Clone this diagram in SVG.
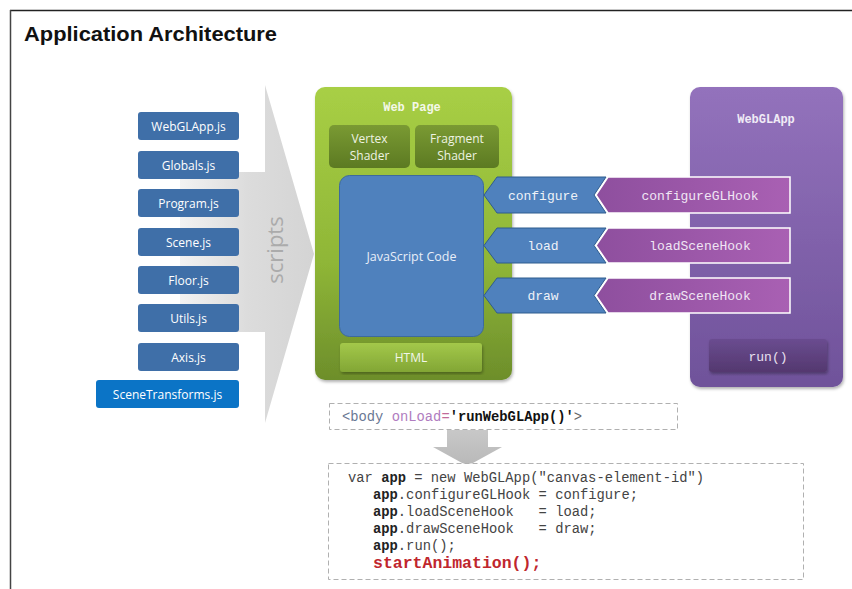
<svg xmlns="http://www.w3.org/2000/svg" width="852" height="589" viewBox="0 0 852 589">
<defs>
<linearGradient id="gGreen" x1="0" y1="0" x2="0" y2="1"><stop offset="0" stop-color="#a8cf45"/><stop offset="0.6" stop-color="#8fb637"/><stop offset="1" stop-color="#6d8e2b"/></linearGradient>
<linearGradient id="gDkGreen" x1="0" y1="0" x2="0" y2="1"><stop offset="0" stop-color="#7a9a33"/><stop offset="1" stop-color="#5c7a22"/></linearGradient>
<linearGradient id="gHtml" x1="0" y1="0" x2="0" y2="1"><stop offset="0" stop-color="#a3c84a"/><stop offset="1" stop-color="#82a635"/></linearGradient>
<linearGradient id="gPurple" x1="0" y1="0" x2="0" y2="1"><stop offset="0" stop-color="#9372bc"/><stop offset="1" stop-color="#6f529a"/></linearGradient>
<linearGradient id="gRun" x1="0" y1="0" x2="0" y2="1"><stop offset="0" stop-color="#6a4c90"/><stop offset="1" stop-color="#54386f"/></linearGradient>
<linearGradient id="gHook" x1="0" y1="0" x2="1" y2="0"><stop offset="0" stop-color="#8e4f9e"/><stop offset="1" stop-color="#a960b3"/></linearGradient>
<linearGradient id="gArrow" x1="0" y1="0" x2="1" y2="0"><stop offset="0" stop-color="#f2f2f2"/><stop offset="0.5" stop-color="#dcdcdc"/><stop offset="1" stop-color="#d4d4d4"/></linearGradient>
<linearGradient id="gDown" x1="0" y1="0" x2="0" y2="1"><stop offset="0" stop-color="#c8c8c8"/><stop offset="1" stop-color="#b8b8b8"/></linearGradient>
<filter id="sh" x="-10%" y="-10%" width="120%" height="120%"><feDropShadow dx="1" dy="2" stdDeviation="1.5" flood-color="#000" flood-opacity="0.3"/></filter>
</defs>
<style>
.file{fill:#3f6fa8;}
.ftxt{font-family:"Open Sans","Liberation Sans",sans-serif;font-size:12px;fill:#ffffff;text-anchor:middle;}
.mono{font-family:"Liberation Mono","Courier New",monospace;}
.lbl{font-family:"Liberation Mono",monospace;font-size:13px;fill:#eef2f8;text-anchor:middle;}
.hlbl{font-family:"Liberation Mono",monospace;font-size:13px;fill:#f0e6f4;text-anchor:middle;}
.sans{font-family:"Open Sans","Liberation Sans",sans-serif;text-anchor:middle;}
.code{font-family:"Liberation Mono",monospace;font-size:13.8px;fill:#444444;white-space:pre;}
.kw{font-weight:bold;fill:#222222;}
.red{font-size:16.5px;font-weight:bold;fill:#c0262d;}
.dash{fill:#ffffff;stroke:#b0b0b0;stroke-width:1;stroke-dasharray:5 3;}
</style>
<rect x="0" y="0" width="852" height="589" fill="#ffffff"/>
<line x1="10" y1="10.5" x2="852" y2="10.5" stroke="#222" stroke-width="1.5"/>
<line x1="10.5" y1="10" x2="10.5" y2="589" stroke="#444" stroke-width="1.5"/>
<text x="24" y="41" font-family="Liberation Sans, Arial, sans-serif" font-weight="bold" font-size="20" fill="#111" textLength="253" lengthAdjust="spacingAndGlyphs">Application Architecture</text>

<g id="scripts-arrow">
<path d="M180,172 L265,172 L265,85 L314,254 L265,423 L265,332 L180,332 Z" fill="url(#gArrow)"/>
<text transform="translate(283,250) rotate(-90)" class="sans" font-size="22" fill="#ababab">scripts</text>
</g>

<g id="files">
<g id="f-webglapp"><rect class="file" x="138" y="112" width="101" height="28" rx="3"/><text class="ftxt" x="188.5" y="130.5">WebGLApp.js</text></g>
<g id="f-globals"><rect class="file" x="138" y="151" width="101" height="28" rx="3"/><text class="ftxt" x="188.5" y="169.5">Globals.js</text></g>
<g id="f-program"><rect class="file" x="138" y="189" width="101" height="28" rx="3"/><text class="ftxt" x="188.5" y="207.5">Program.js</text></g>
<g id="f-scene"><rect class="file" x="138" y="228" width="101" height="28" rx="3"/><text class="ftxt" x="188.5" y="246.5">Scene.js</text></g>
<g id="f-floor"><rect class="file" x="138" y="266" width="101" height="28" rx="3"/><text class="ftxt" x="188.5" y="284.5">Floor.js</text></g>
<g id="f-utils"><rect class="file" x="138" y="304" width="101" height="28" rx="3"/><text class="ftxt" x="188.5" y="322.5">Utils.js</text></g>
<g id="f-axis"><rect class="file" x="138" y="343" width="101" height="28" rx="3"/><text class="ftxt" x="188.5" y="361.5">Axis.js</text></g>
<g id="f-scenetransforms"><rect x="96" y="380" width="143" height="28" rx="3" fill="#0b74c6"/><text class="ftxt" x="167.5" y="398.5">SceneTransforms.js</text></g>
</g>

<g id="webpage">
<rect x="315" y="87" width="197" height="293" rx="10" fill="url(#gGreen)" filter="url(#sh)"/>
<text x="412" y="111" class="mono" font-size="12" font-weight="bold" fill="#f4f8e8" text-anchor="middle">Web Page</text>
</g>
<g id="vertex-shader">
<rect x="329" y="125" width="81" height="43" rx="5" fill="url(#gDkGreen)"/>
<text class="sans" x="369.5" y="143" font-size="12" fill="#eef3e2">Vertex</text>
<text class="sans" x="369.5" y="160" font-size="12" fill="#eef3e2">Shader</text>
</g>
<g id="fragment-shader">
<rect x="415" y="125" width="84" height="43" rx="5" fill="url(#gDkGreen)"/>
<text class="sans" x="457" y="143" font-size="12" fill="#eef3e2">Fragment</text>
<text class="sans" x="457" y="160" font-size="12" fill="#eef3e2">Shader</text>
</g>
<g id="javascript-code">
<rect x="339.5" y="175.5" width="144" height="161" rx="10" fill="#4f81bd" stroke="#3d6a9c" stroke-width="1"/>
<text class="sans" x="411.5" y="261" font-size="12.5" fill="#e8eef8">JavaScript Code</text>
</g>
<g id="html">
<rect x="340" y="343" width="142" height="29" rx="3" fill="url(#gHtml)" filter="url(#sh)"/>
<text class="sans" x="411" y="362" font-size="12" fill="#f2f6ea">HTML</text>
</g>

<g id="webglapp">
<rect x="690" y="87" width="153" height="300" rx="10" fill="url(#gPurple)" filter="url(#sh)"/>
<text x="766" y="123" class="mono" font-size="12" font-weight="bold" fill="#f0ebf6" text-anchor="middle">WebGLApp</text>
</g>
<g id="run">
<rect x="709" y="339" width="118" height="33" rx="3" fill="url(#gRun)" filter="url(#sh)"/>
<text class="mono" x="768" y="361" font-size="13" fill="#e8e0f0" text-anchor="middle">run()</text>
</g>

<g id="connectors">
<g id="hook-configure">
<path d="M608,177 L790,177 L790,213 L608,213 L596,195 Z" fill="url(#gHook)" stroke="#ffffff" stroke-width="1.5"/>
<text class="hlbl" x="700" y="199.5">configureGLHook</text>
</g>
<g id="cb-configure">
<path d="M497,177 L606,177 L594,195 L606,213 L497,213 L484,195 Z" fill="#4f81bd" stroke="#2f5c8e" stroke-width="1"/>
<text class="lbl" x="543" y="199.5">configure</text>
</g>
<g id="hook-load">
<path d="M608,228 L790,228 L790,263 L608,263 L596,245.5 Z" fill="url(#gHook)" stroke="#ffffff" stroke-width="1.5"/>
<text class="hlbl" x="700" y="250">loadSceneHook</text>
</g>
<g id="cb-load">
<path d="M497,228 L606,228 L594,245.5 L606,263 L497,263 L484,245.5 Z" fill="#4f81bd" stroke="#2f5c8e" stroke-width="1"/>
<text class="lbl" x="543" y="250">load</text>
</g>
<g id="hook-draw">
<path d="M608,278 L790,278 L790,313 L608,313 L596,295.5 Z" fill="url(#gHook)" stroke="#ffffff" stroke-width="1.5"/>
<text class="hlbl" x="700" y="300">drawSceneHook</text>
</g>
<g id="cb-draw">
<path d="M497,278 L606,278 L594,295.5 L606,313 L497,313 L484,295.5 Z" fill="#4f81bd" stroke="#2f5c8e" stroke-width="1"/>
<text class="lbl" x="543" y="300">draw</text>
</g>
<path id="down-arrow" d="M447,430 L488,430 L488,447 L502,447 L467.5,466 L433,447 L447,447 Z" fill="url(#gDown)"/>
</g>

<g id="body-tag">
<rect class="dash" x="329.5" y="403.5" width="348" height="26"/>
<text class="code" x="342" y="421"><tspan style="fill:#6a7894">&lt;body </tspan><tspan style="fill:#b07cc0">onLoad</tspan><tspan style="fill:#c06a9a">=</tspan><tspan class="kw" style="fill:#111">'runWebGLApp()'</tspan><tspan style="fill:#666">&gt;</tspan></text>
</g>

<g id="app-code">
<rect class="dash" x="328.5" y="463.5" width="475" height="116"/>
<text class="code" x="348" y="482">var <tspan class="kw">app</tspan> = new WebGLApp("canvas-element-id")</text>
<text class="code" x="373" y="499"><tspan class="kw">app</tspan>.configureGLHook = configure;</text>
<text class="code" x="373" y="516"><tspan class="kw">app</tspan>.loadSceneHook   = load;</text>
<text class="code" x="373" y="533"><tspan class="kw">app</tspan>.drawSceneHook   = draw;</text>
<text class="code" x="373" y="550"><tspan class="kw">app</tspan>.run();</text>
<text class="code red" x="373" y="568">startAnimation();</text>
</g>
</svg>
